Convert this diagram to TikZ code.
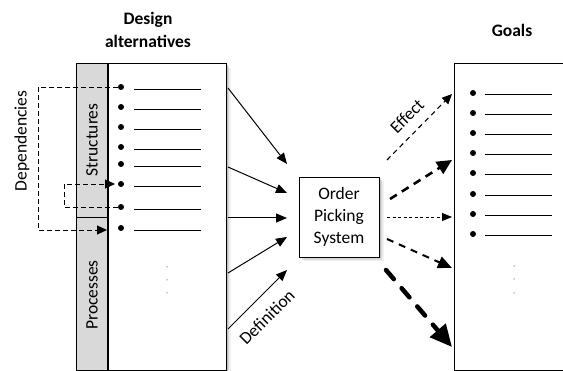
\documentclass[tikz,border=0pt]{standalone}
\usepackage{fontspec}
\setmainfont{Carlito}
\usetikzlibrary{arrows.meta,calc,shadows}

\begin{document}
\begin{tikzpicture}[x=1pt,y=-1pt,
  font=\fontsize{17.5}{22}\selectfont,
  box/.style={draw, line width=0.8pt, fill=white, inner sep=0pt},
  soft/.style={drop shadow={shadow xshift=1.5pt,shadow yshift=-1.5pt,fill=black,opacity=.12},
               drop shadow={shadow xshift=3pt,shadow yshift=-3pt,fill=black,opacity=.10},
               drop shadow={shadow xshift=4.5pt,shadow yshift=-4.5pt,fill=black,opacity=.06}},
  bullet/.style={circle, fill=black, inner sep=0pt, minimum size=6pt},
  itemline/.style={line width=0.9pt},
  head/.style={font=\fontsize{17.5}{23}\selectfont\bfseries, align=center},
  dep/.style={line width=0.9pt, dash pattern=on 5pt off 3pt,
              -{Triangle[length=10pt,width=9pt]}},
  defarrow/.style={line width=1pt, -{Triangle[length=11pt,width=9pt]}},
]
\useasboundingbox (0,0) rectangle (563,371);

% headings
\node[head] (hda) at (148,30) {Design\\alternatives};
\node[head] (hgoals) at (512,30) {Goals};

% design alternatives box with the grey label strip
\node[box, soft, anchor=north west, minimum width=150pt, minimum height=307pt] (alt) at (76,63) {};
\fill[gray!30] (76.4,63.4) rectangle (108,369.6);
\draw[line width=0.8pt] (alt.north west) rectangle (alt.south east);
\draw[line width=1.6pt] (108,63) -- (108,370);
\draw[line width=0.8pt] (76,217) -- (108,217);
\node[rotate=90] (lstr) at (92,140) {Structures};
\node[rotate=90] (lproc) at (92,295) {Processes};

% items of the design alternatives
\foreach \i/\y in {1/87,2/107,3/127,4/147,5/164,6/184,7/207,8/228}{
  \node[bullet] (b\i) at (121,\y) {};
  \draw[itemline] (134,\y+2) -- (201,\y+2);
}
\foreach \y in {267,280,293}{\fill (167,\y) circle (0.5pt);}

% dependencies between items
\coordinate (dEnd1) at (107,230);
\coordinate (dEnd2) at (115,184);
\draw[dep] (b1.west) -- (38,87) -- (38,230) -- (dEnd1);
\draw[dep] (b7.west) -- (64,207) -- (64,184) -- (dEnd2);
\node[rotate=90] (ldep) at (22,141) {Dependencies};

% goals box
\node[box, anchor=north west, minimum width=115pt, minimum height=307pt] (goals) at (454,63) {};
\foreach \i/\y in {1/93,2/113,3/133,4/153,5/173,6/194,7/214,8/234}{
  \node[bullet] (g\i) at (473,\y) {};
  \draw[itemline] (485,\y+1) -- (552,\y+1);
}
\foreach \y in {266,279,293}{\fill (514,\y) circle (0.5pt);}

% order picking system
\node[box, soft, minimum width=80pt, minimum height=80pt, align=center] (ops) at (339,217) {Order\\Picking\\System};

% definition arrows
\coordinate (s1) at (228,88);  \coordinate (e1) at (287,164);
\coordinate (s2) at (228,167); \coordinate (e2) at (287,193);
\coordinate (s3) at (228,218); \coordinate (e3) at (287,218);
\coordinate (s4) at (228,273); \coordinate (e4) at (287,237);
\coordinate (s5) at (228,329); \coordinate (e5) at (287,270);
\foreach \i in {1,...,5}{\draw[defarrow] (s\i) -- (e\i);}
\node[rotate=45] (ldef) at (267,317) {Definition};

% effect arrows
\coordinate (f1) at (387,160); \coordinate (t1) at (452,94);
\coordinate (f2) at (390,199); \coordinate (t2) at (452,160);
\coordinate (f3) at (387,217); \coordinate (t3) at (452,217);
\coordinate (f4) at (387,239); \coordinate (t4) at (452,268);
\coordinate (f5) at (386,270); \coordinate (t5) at (452,347);
\draw[line width=1.1pt, dash pattern=on 5pt off 4pt, -{Triangle[length=10pt,width=9pt]}] (f1) -- (t1);
\draw[line width=2.6pt, dash pattern=on 8pt off 6pt, -{Triangle[length=15pt,width=14pt]}] (f2) -- (t2);
\draw[line width=0.9pt, dash pattern=on 3pt off 2.5pt, -{Triangle[length=10pt,width=8pt]}] (f3) -- (t3);
\draw[line width=2pt, dash pattern=on 7pt off 6pt, -{Triangle[length=14pt,width=12pt]}] (f4) -- (t4);
\draw[line width=4.5pt, line cap=round, dash pattern=on 12pt off 12pt, -{Triangle[length=22pt,width=20pt]}] (f5) -- (t5);
\node[rotate=45] (leff) at (407,116) {Effect};
\end{tikzpicture}
\end{document}
